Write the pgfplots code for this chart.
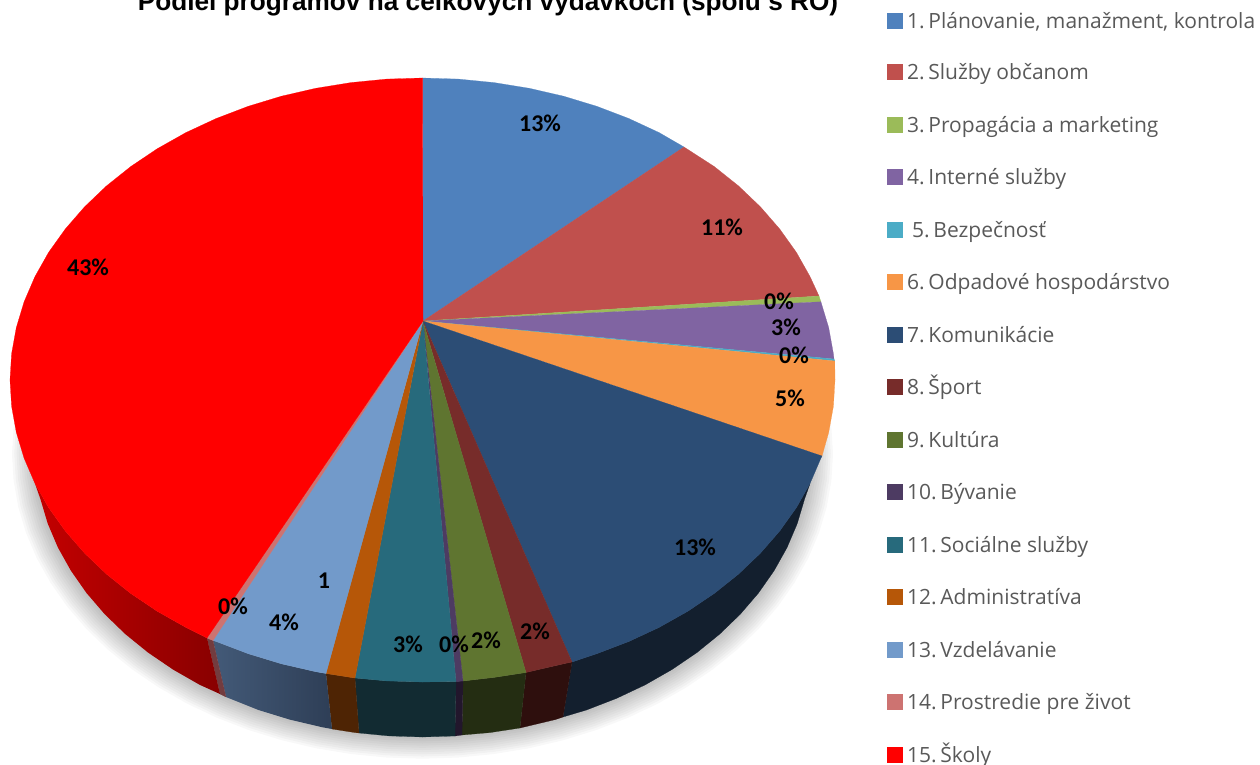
\documentclass[border=0pt]{standalone}
\usepackage{fontspec}
\usepackage{pgfplots}
\usepackage{pgfplotstable}
\pgfplotsset{compat=1.18}
\setmainfont{Open Sans}
\newfontfamily\titlefont{Liberation Sans}
\newfontfamily\labelfont{Carlito}
\definecolor{c1}{HTML}{4F81BD}
\definecolor{c2}{HTML}{C0504D}
\definecolor{c3}{HTML}{9BBB59}
\definecolor{c4}{HTML}{8064A2}
\definecolor{c5}{HTML}{4BACC6}
\definecolor{c6}{HTML}{F79646}
\definecolor{c7}{HTML}{2C4D75}
\definecolor{c8}{HTML}{772C2A}
\definecolor{c9}{HTML}{5F7530}
\definecolor{c10}{HTML}{4D3B62}
\definecolor{c11}{HTML}{276A7C}
\definecolor{c12}{HTML}{B65708}
\definecolor{c13}{HTML}{729ACA}
\definecolor{c14}{HTML}{CD7371}
\definecolor{c15}{HTML}{FF0000}
\definecolor{w7}{HTML}{131F2E}
\definecolor{w8}{HTML}{2E0F0D}
\definecolor{w9}{HTML}{242D12}
\definecolor{w10}{HTML}{22162C}
\definecolor{w11}{HTML}{122B32}
\definecolor{w12}{HTML}{4E2404}
\definecolor{w13a}{HTML}{435A78}
\definecolor{w13b}{HTML}{2E3E56}
\definecolor{w14}{HTML}{733C3F}
\definecolor{w15a}{HTML}{C40000}
\definecolor{w15b}{HTML}{880000}
\definecolor{legtext}{HTML}{595959}
\pgfplotstableread{
x y
40.4 399
36 423.9
34.5 449
36 474.1
40.4 499
47.7 523.5
57.9 547.5
70.9 570.7
86.5 593
104.7 614.2
125.3 634.1
148.1 652.6
173.1 669.6
199.9 684.9
228.5 698.4
258.5 710
289.8 719.6
322.1 727.2
355.1 732.6
388.7 735.9
422.5 737
456.3 735.9
489.9 732.6
522.9 727.2
555.2 719.6
586.5 710
616.5 698.4
645.1 684.9
671.9 669.6
696.9 652.6
719.7 634.1
740.3 614.2
758.5 593
774.1 570.7
787.1 547.5
797.3 523.5
804.6 499
809 474.1
810.5 449
809 423.9
804.6 399
}\shadowarc
\newcommand{\lab}[3]{\node[font=\labelfont\bfseries\fontsize{24}{26}\selectfont,inner sep=0pt] at (axis cs:#1,#2) {#3};}
\newcommand{\leg}[4]{\addplot[only marks,mark=square*,mark size=7.5pt,color=#1,mark options={line width=0pt}] coordinates {(894.5,#2)};
\node[font=\fontsize{21}{24}\selectfont,text=legtext,anchor=base west,inner sep=0pt] at (axis cs:907,#2+7.2) {#3\hspace{3.6pt}#4};}
\begin{document}
\begin{tikzpicture}
\useasboundingbox (0,0) rectangle (1260pt,765pt);
\begin{axis}[at={(0,0)},anchor=south west,width=1260pt,height=765pt,scale only axis,hide axis,
 xmin=0,xmax=1260,ymin=0,ymax=765,y dir=reverse,
 slice/.style={fill=#1,draw=#1,line width=0.2pt,mark=none}]
% soft shadow under the pie
\pgfplotsinvokeforeach{10,9,...,1}{
\addplot[fill=black,fill opacity=0.028,draw=none,mark=none] table[x expr={422.5+(\thisrow{x}-422.5)*(1+0.0058*#1)},y expr={449+(\thisrow{y}-449)*(1+0.0058*#1)+0.5*#1}] {\shadowarc} --cycle;
}
% walls
\addplot[slice=w7] coordinates {(563,717)(586.5,710)(616.5,698.4)(645.1,684.9)(671.9,669.6)(696.9,652.6)(719.7,634.1)(740.3,614.2)(758.5,593)(774.1,570.7)(787.1,547.5)(797.3,523.5)(804.6,499)(810.1,483.3)(796.4,507.6)(779.7,531)(760.4,553.2)(738.5,574.1)(714.2,593.5)(687.7,611.3)(659.1,627.4)(628.8,641.5)(596.8,653.7)(572,662)} --cycle;
\addplot[slice=w8] coordinates {(520,728)(555.2,719.6)(563,717)(572,662)(563.6,663.8)(529.3,671.7)(526,672.5)} --cycle;
\addplot[slice=w9] coordinates {(462,735)(489.9,732.6)(520,728)(526,672.5)(494.1,677.4)(463,681)} --cycle;
\addplot[slice=w10] coordinates {(455,736)(462,735)(463,681)(456,681.5)} --cycle;
\addplot[slice=w11] coordinates {(359,733)(388.7,735.9)(422.5,737)(455,736)(456,681.5)(422.5,682)(386.5,680.9)(355,678)} --cycle;
\addplot[slice=w12] coordinates {(332,729)(355.1,732.6)(359,733)(355,678)(350.9,677.4)(326,673.5)} --cycle;
\addplot[draw=none,mark=none,left color=w13a,right color=w13b] coordinates {(226,697)(258.5,710)(289.8,719.6)(322.1,727.2)(332,729)(326,673.5)(315.7,671.7)(281.4,663.8)(248.2,653.7)(216.2,641.5)(213,640.5)} --cycle;
\addplot[slice=w14] coordinates {(220,694)(226,697)(213,640.5)(207,638)} --cycle;
\addplot[draw=none,mark=none,left color=w15a,right color=w15b] coordinates {(220,694)(199.9,684.9)(173.1,669.6)(148.1,652.6)(125.3,634.1)(104.7,614.2)(86.5,593)(70.9,570.7)(57.9,547.5)(47.7,523.5)(40.4,499)(34.9,483.3)(48.6,507.6)(65.3,531)(84.6,553.2)(106.5,574.1)(130.8,593.5)(157.3,611.3)(185.9,627.4)(207,638)} --cycle;
% top face
\addplot[slice=c1] coordinates {(423,321)(422.5,78)(458.5,79.1)(494.1,82.6)(529.3,88.3)(563.6,96.2)(596.8,106.3)(628.8,118.5)(659.1,132.6)(684,147)} --cycle;
\addplot[slice=c2] coordinates {(423,321)(684,147)(714.2,166.5)(738.5,185.9)(760.4,206.8)(779.7,229)(796.4,252.4)(810.1,276.7)(819,296)} --cycle;
\addplot[slice=c3] coordinates {(423,321)(819,296)(820.9,301.8)} --cycle;
\addplot[slice=c4] coordinates {(423,321)(820.9,301.8)(828.7,327.6)(833.4,353.7)(834,359)} --cycle;
\addplot[slice=c5] coordinates {(423,321)(834,359)(834.8,361)} --cycle;
\addplot[slice=c6] coordinates {(423,321)(834.8,361)(835,380)(833.4,406.3)(828.7,432.4)(822,456)} --cycle;
\addplot[slice=c7] coordinates {(423,321)(822,456)(820.9,458.2)(810.1,483.3)(796.4,507.6)(779.7,531)(760.4,553.2)(738.5,574.1)(714.2,593.5)(687.7,611.3)(659.1,627.4)(628.8,641.5)(596.8,653.7)(572,662)} --cycle;
\addplot[slice=c8] coordinates {(423,321)(572,662)(563.6,663.8)(529.3,671.7)(526,672.5)} --cycle;
\addplot[slice=c9] coordinates {(423,321)(526,672.5)(494.1,677.4)(463,681)} --cycle;
\addplot[slice=c10] coordinates {(423,321)(463,681)(456,681.5)} --cycle;
\addplot[slice=c11] coordinates {(423,321)(456,681.5)(422.5,682)(386.5,680.9)(355,678)} --cycle;
\addplot[slice=c12] coordinates {(423,321)(355,678)(350.9,677.4)(326,673.5)} --cycle;
\addplot[slice=c13] coordinates {(423,321)(326,673.5)(315.7,671.7)(281.4,663.8)(248.2,653.7)(216.2,641.5)(213,640.5)} --cycle;
\addplot[slice=c14] coordinates {(423,321)(213,640.5)(207,638)} --cycle;
\addplot[slice=c15] coordinates {(423,321)(207,638)(185.9,627.4)(157.3,611.3)(130.8,593.5)(106.5,574.1)(84.6,553.2)(65.3,531)(48.6,507.6)(34.9,483.3)(24.1,458.2)(16.3,432.4)(11.6,406.3)(10,380)(11.6,353.7)(16.3,327.6)(24.1,301.8)(34.9,276.7)(48.6,252.4)(65.3,229)(84.6,206.8)(106.5,185.9)(130.8,166.5)(157.3,148.7)(185.9,132.6)(216.2,118.5)(248.2,106.3)(281.4,96.2)(315.7,88.3)(350.9,82.6)(386.5,79.1)(422.5,78)} --cycle;
% data labels
\lab{540}{123}{13\%}
\lab{722}{227}{11\%}
\lab{779}{301}{0\%}
\lab{786}{327}{3\%}
\lab{794}{355}{0\%}
\lab{790}{398}{5\%}
\lab{695}{547}{13\%}
\lab{535}{631}{2\%}
\lab{486}{640}{2\%}
\lab{454}{644}{0\%}
\lab{408}{644}{3\%}
\lab{284}{622}{4\%}
\lab{324}{581}{1}
\lab{233}{606}{0\%}
\lab{88}{267}{43\%}
% title, cut by the top edge as in the source
\node[font=\titlefont\bfseries\fontsize{26.2}{28}\selectfont,anchor=base,inner sep=0pt] at (axis cs:488,10.5) {Podiel programov na celkových výdavkoch (spolu s RO)};
% legend
\leg{c1}{21}{1.}{Plánovanie, manažment, kontrola}
\leg{c2}{72}{2.}{Služby občanom}
\leg{c3}{125}{3.}{Propagácia a marketing}
\leg{c4}{177}{4.}{Interné služby}
\leg{c5}{230}{\hspace{5pt}5.}{Bezpečnosť}
\leg{c6}{282}{6.}{Odpadové hospodárstvo}
\leg{c7}{335}{7.}{Komunikácie}
\leg{c8}{387}{8.}{Šport}
\leg{c9}{440}{9.}{Kultúra}
\leg{c10}{492}{10.}{Bývanie}
\leg{c11}{545}{11.}{Sociálne služby}
\leg{c12}{597}{12.}{Administratíva}
\leg{c13}{650}{13.}{Vzdelávanie}
\leg{c14}{702}{14.}{Prostredie pre život}
\leg{c15}{755}{15.}{Školy}
\end{axis}
\end{tikzpicture}
\end{document}
